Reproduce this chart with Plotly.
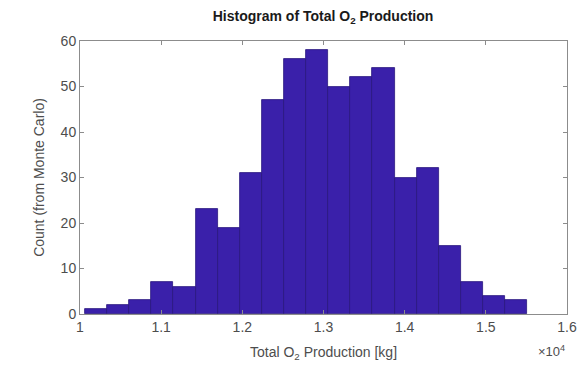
import numpy as np
import plotly.graph_objects as go

# Monte Carlo histogram of total O2 production
counts = [1, 2, 3, 7, 6, 23, 19, 31, 47, 56, 58, 50, 52, 54, 30, 32, 15, 7, 4, 3]
bin_lo, bin_hi = 10062, 15510
x_tick_vals = [10000, 11000, 12000, 13000, 14000, 15000, 16000]
x_tick_text = ["1", "1.1", "1.2", "1.3", "1.4", "1.5", "1.6"]
y_tick_vals = [0, 10, 20, 30, 40, 50, 60]

edges = np.linspace(bin_lo, bin_hi, len(counts) + 1)
centers = (edges[:-1] + edges[1:]) / 2
width = edges[1] - edges[0]

font = "Liberation Sans, Arial, Helvetica, sans-serif"
axis_col = "#8c8c8c"
text_col = "#4d4d4d"

fig = go.Figure(
    go.Bar(
        x=centers,
        y=counts,
        width=width,
        marker=dict(color="rgb(58,32,170)", line=dict(color="rgb(42,22,125)", width=0.8)),
    )
)

axis_common = dict(
    showgrid=False,
    zeroline=False,
    showline=True,
    linecolor=axis_col,
    linewidth=1,
    mirror="ticks",
    ticks="inside",
    ticklen=4,
    tickcolor=axis_col,
    automargin=False,
    tickfont=dict(family=font, size=14, color=text_col),
)

fig.update_xaxes(
    range=[10000, 16000],
    tickvals=x_tick_vals,
    ticktext=x_tick_text,
    title=dict(text="Total O<sub>2</sub> Production [kg]", font=dict(family=font, size=14, color=text_col), standoff=13),
    **axis_common,
)
fig.update_yaxes(
    range=[0, 60],
    tickvals=y_tick_vals,
    title=dict(text="Count (from Monte Carlo)", font=dict(family=font, size=14, color=text_col), standoff=12),
    **axis_common,
)

fig.update_layout(
    width=580,
    height=368,
    margin=dict(l=80, r=13, t=41, b=54),
    paper_bgcolor="white",
    plot_bgcolor="white",
    showlegend=False,
    bargap=0,
    title=dict(
        text="<b>Histogram of Total O<sub>2</sub> Production</b>",
        font=dict(family=font, size=14, color="#1a1a1a"),
        x=0.557,
        xanchor="center",
        y=0.955,
        yanchor="middle",
    ),
    annotations=[
        dict(
            text="×10<sup>4</sup>",
            xref="paper",
            yref="paper",
            x=1.0,
            y=-0.1,
            xanchor="right",
            yanchor="top",
            showarrow=False,
            font=dict(family=font, size=13, color=text_col),
        )
    ],
)

fig.write_html("out.html")
